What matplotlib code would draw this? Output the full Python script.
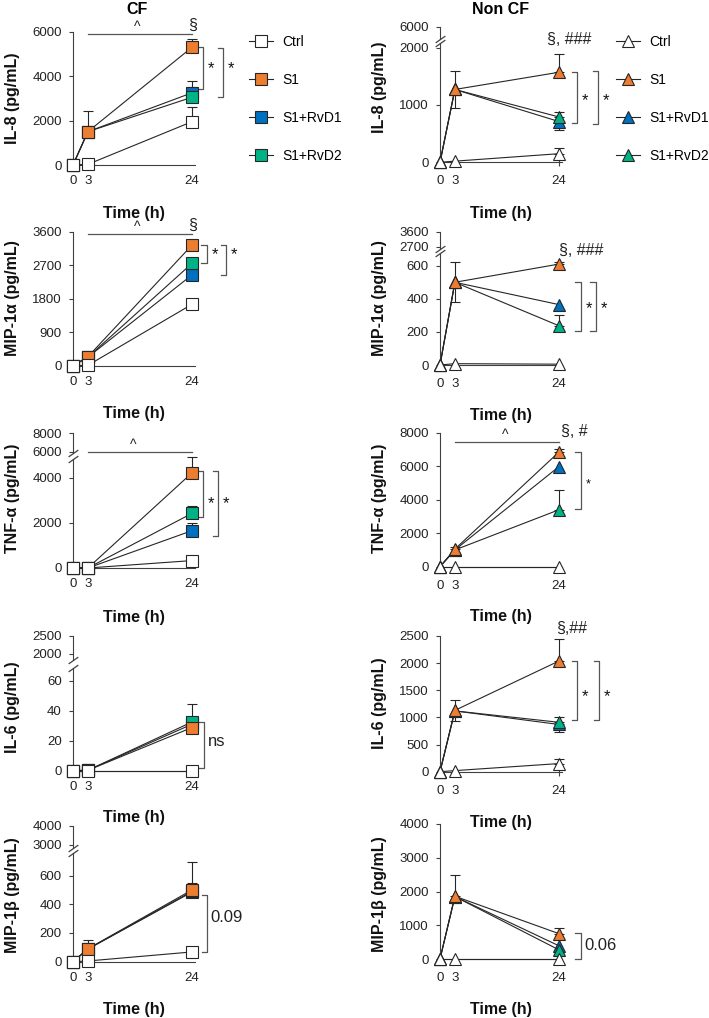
import numpy as np
import matplotlib
matplotlib.use('Agg')
import matplotlib.pyplot as plt

plt.rcParams['font.family'] = ['Liberation Sans', 'DejaVu Sans']

###################################### DATA #################################################
time_h = [0, 3, 24]
groups = ['Ctrl', 'S1', 'S1+RvD1', 'S1+RvD2']
zero = [0, 0, 0]

# means (pg/mL), one list per group: Ctrl, S1, S1+RvD1, S1+RvD2
# *_up / *_dn = upper / lower error bar length
il8_cf = [[0, 30, 1950], [0, 1500, 5300], [0, 1500, 3250], [0, 1500, 3050]]
il8_cf_up = [[0, 0, 650], [0, 950, 370], [0, 0, 550], [0, 0, 450]]
il8_cf_dn = [zero, zero, zero, zero]

il8_ncf = [[0, 20, 150], [0, 1270, 1570], [0, 1270, 710], [0, 1270, 790]]
il8_ncf_up = [[0, 0, 100], [0, 330, 310], zero, [0, 0, 90]]
il8_ncf_dn = [zero, [0, 320, 0], [0, 0, 140], zero]

mip1a_cf = [[0, 10, 1650], [0, 240, 3240], [0, 230, 2440], [0, 230, 2750]]
mip1a_cf_up = [zero, [0, 70, 40], zero, [0, 0, 60]]
mip1a_cf_dn = [zero, zero, zero, zero]

mip1a_ncf = [[0, 8, 5], [0, 500, 610], [0, 500, 365], [0, 500, 237]]
mip1a_ncf_up = [zero, [0, 120, 15], zero, [0, 0, 68]]
mip1a_ncf_dn = [zero, [0, 120, 0], zero, zero]

tnfa_cf = [[0, 0, 330], [0, 0, 4230], [0, 0, 1660], [0, 0, 2430]]
tnfa_cf_up = [zero, [0, 0, 720], [0, 0, 330], [0, 0, 330]]
tnfa_cf_dn = [zero, zero, zero, zero]

tnfa_ncf = [[0, 0, 0], [0, 1050, 6850], [0, 1000, 5980], [0, 1000, 3400]]
tnfa_ncf_up = [zero, [0, 100, 150], zero, [0, 0, 1150]]
tnfa_ncf_dn = [zero, zero, zero, zero]

il6_cf = [[0, 0, 0], [0, 0.3, 28.8], [0, 0.3, 31], [0, 0.3, 32.5]]
il6_cf_up = [zero, zero, zero, [0, 0, 12]]
il6_cf_dn = [zero, zero, zero, zero]

il6_ncf = [[0, 20, 150], [0, 1130, 2040], [0, 1120, 870], [0, 1120, 910]]
il6_ncf_up = [[0, 0, 85], [0, 200, 400], zero, [0, 0, 90]]
il6_ncf_dn = [zero, [0, 200, 0], [0, 0, 130], zero]

mip1b_cf = [[0, 5, 68], [0, 90, 500], [0, 88, 485], [0, 88, 490]]
mip1b_cf_up = [zero, [0, 60, 195], [0, 0, 60], zero]
mip1b_cf_dn = [zero, zero, zero, zero]

mip1b_ncf = [[0, 0, 0], [0, 1860, 750], [0, 1850, 390], [0, 1850, 270]]
mip1b_ncf_up = [zero, [0, 620, 160], zero, zero]
mip1b_ncf_dn = [zero, zero, zero, zero]

###################################### STYLE / LAYOUT #################################################
W, H = 709, 1018
colors = ['white', '#ED7D31', '#0070C0', '#00B386']
draw_order = [2, 3, 1, 0]   # Ctrl ends up on top
col_x0 = [73, 440]
col_w = 122
ylab_x = [20, 387]
ink = '#262626'
brk = '#555555'

fig = plt.figure(figsize=(W / 100, H / 100), dpi=100)


def fx(px):
    return px / W


def fy(py):
    return 1 - py / H


def add_ax(col, top, bottom):
    return fig.add_axes([fx(col_x0[col]), fy(bottom), col_w / W, (bottom - top) / H])


def style_axis(ax, yticks):
    for s in ['top', 'right']:
        ax.spines[s].set_visible(False)
    for s in ['left', 'bottom']:
        ax.spines[s].set_color('#404040')
        ax.spines[s].set_linewidth(0.8)
    ax.set_yticks(yticks)
    ax.tick_params(axis='y', direction='out', length=3, width=0.8, pad=5,
                   labelsize=9.5, colors='#404040', labelcolor='#222222')
    ax.patch.set_alpha(0)


panels = [
    dict(col=0, mean=il8_cf, up=il8_cf_up, dn=il8_cf_dn, marker='s', label='IL-8 (pg/mL)',
         low=(31.7, 165, 6000, [0, 2000, 4000, 6000]), upp=None, ylab_y=98.5, xlab_y=213,
         sig=(24, 6300, '§'), caret=(5900, 12.9),
         brackets=[(26.3, 5330, 3410, '*', 4330), (30.3, 5250, 3050, '*', 4330)]),
    dict(col=1, mean=il8_ncf, up=il8_ncf_up, dn=il8_ncf_dn, marker='^', label='IL-8 (pg/mL)',
         low=(43, 162.3, 2080, [0, 1000, 2000]), upp=(26.7, 39, 5800, 6000, [6000]),
         ylab_y=87.5, xlab_y=213, sig=(26, 2134, '§, ###'), caret=None,
         brackets=[(27.7, 1570, 680, '*', 1080), (31.9, 1593, 663, '*', 1080)]),
    dict(col=0, mean=mip1a_cf, up=mip1a_cf_up, dn=mip1a_cf_dn, marker='s', label='MIP-1α (pg/mL)',
         low=(231.7, 365.7, 3600, [0, 900, 1800, 2700, 3600]), upp=None, ylab_y=298,
         xlab_y=413.3, sig=(24, 3780, '§'), caret=(3530, 12.9),
         brackets=[(27, 3243, 2751, '*', 2980), (30.9, 3243, 2437, '*', 2980)]),
    dict(col=1, mean=mip1a_ncf, up=mip1a_ncf_up, dn=mip1a_ncf_dn, marker='^', label='MIP-1α (pg/mL)',
         low=(253, 365, 677, [0, 200, 400, 600]), upp=(231.7, 249, 2562, 3600, [2700, 3600]),
         ylab_y=297.7, xlab_y=415, sig=(28.4, 695, '§, ###'), caret=None,
         brackets=[(28.4, 503, 205, '*', 340), (31.4, 503, 205, '*', 340)]),
    dict(col=0, mean=tnfa_cf, up=tnfa_cf_up, dn=tnfa_cf_dn, marker='s', label='TNF-α (pg/mL)',
         low=(459, 568, 4844, [0, 2000, 4000]), upp=(433, 453, 5861, 8000, [6000, 8000]),
         ylab_y=498, xlab_y=616.7, sig=None, caret=(5140, 12.2),
         brackets=[(26.3, 4324, 2280, '*', 2850), (29.3, 4324, 1436, '*', 2850)]),
    dict(col=1, mean=tnfa_ncf, up=tnfa_ncf_up, dn=tnfa_ncf_dn, marker='^', label='TNF-α (pg/mL)',
         low=(432.7, 566.7, 8000, [0, 2000, 4000, 6000, 8000]), upp=None, ylab_y=498,
         xlab_y=616, sig=(27, 8050, '§, #'), caret=(7460, 13.2),
         brackets=[(28.4, 6866, 3445, 'small*', 4900)]),
    dict(col=0, mean=il6_cf, up=il6_cf_up, dn=il6_cf_dn, marker='s', label='IL-6 (pg/mL)',
         low=(668, 770.7, 68.5, [0, 20, 40, 60]), upp=(636, 660, 1833, 2500, [2000, 2500]),
         ylab_y=706.7, xlab_y=816.7, sig=None, caret=None,
         brackets=[(26.5, 32.7, 1.6, 'ns', 19.3)]),
    dict(col=1, mean=il6_ncf, up=il6_ncf_up, dn=il6_ncf_dn, marker='^', label='IL-6 (pg/mL)',
         low=(636, 771.7, 2500, [0, 500, 1000, 1500, 2000, 2500]), upp=None, ylab_y=703,
         xlab_y=821.7, sig=(26.6, 2642, '§,##'), caret=None,
         brackets=[(27.7, 2040, 950, '*', 1380), (32.1, 2040, 950, '*', 1380)]),
    dict(col=0, mean=mip1b_cf, up=mip1b_cf_up, dn=mip1b_cf_dn, marker='s', label='MIP-1β (pg/mL)',
         low=(853, 961.7, 757, [0, 200, 400, 600]), upp=(826, 848, 2842, 4000, [3000, 4000]),
         ylab_y=895, xlab_y=1009.3, sig=None, caret=None,
         brackets=[(27.1, 465, 65, '0.09', 309)]),
    dict(col=1, mean=mip1b_ncf, up=mip1b_ncf_up, dn=mip1b_ncf_dn, marker='^', label='MIP-1β (pg/mL)',
         low=(824, 959, 4000, [0, 1000, 2000, 3000, 4000]), upp=None, ylab_y=894,
         xlab_y=1009.3, sig=None, caret=None,
         brackets=[(28.4, 780, 0, '0.06', 394)]),
]

###################################### DRAW #################################################
legend_handles = {}
for p in panels:
    col = p['col']
    top, bottom, ymax, yticks = p['low']
    ax = add_ax(col, top, bottom)
    style_axis(ax, yticks)
    ax.set_xlim(0, 24.6)
    ax.set_ylim(0, ymax)
    ax.set_xticks(time_h)
    if col == 0:
        ax.tick_params(axis='x', length=0, pad=7.5, labelsize=9.5, labelcolor='#222222')
    else:
        ax.tick_params(axis='x', direction='inout', length=6, width=0.8, color='#404040',
                       pad=6.5, labelsize=9.5, labelcolor='#222222')

    handles = {}
    for rank, gi in enumerate(draw_order):
        m = p['mean'][gi]
        ln, = ax.plot(time_h, m, marker=p['marker'], ms=8.5, mfc=colors[gi], mec=ink, mew=0.8,
                      color=ink, lw=0.8, zorder=4 + rank, clip_on=False)
        handles[gi] = ln
        up = np.array(p['up'][gi], dtype=float)
        dn = np.array(p['dn'][gi], dtype=float)
        keep = (up > 0) | (dn > 0)
        if keep.any():
            tx = np.array(time_h)[keep]
            ax.errorbar(tx, np.array(m)[keep], yerr=[dn[keep], up[keep]], fmt='none',
                        ecolor=ink, elinewidth=0.8, capsize=3.5, capthick=0.8,
                        zorder=3, clip_on=False)
    if col not in legend_handles:
        legend_handles[col] = [handles[gi] for gi in range(len(groups))]

    # y label and x label
    ax.set_ylabel(p['label'], fontsize=11.5, fontweight='bold', color='#111111')
    ax.yaxis.set_label_coords(fx(ylab_x[col]), fy(p['ylab_y']), transform=fig.transFigure)
    ax.set_xlabel('Time (h)', fontsize=11.5, fontweight='bold', color='#111111')
    ax.xaxis.set_label_coords(fx(col_x0[col] + col_w / 2), fy(p['xlab_y'] - 7),
                              transform=fig.transFigure)

    # broken axis: small upper segment
    if p['upp'] is not None:
        utop, ubot, ylo, yhi, uticks = p['upp']
        ua = add_ax(col, utop, ubot)
        style_axis(ua, uticks)
        ua.spines['bottom'].set_visible(False)
        ua.set_xticks([])
        ua.set_xlim(0, 24.6)
        ua.set_ylim(ylo, yhi)
        kw = dict(marker=[(-1, -0.7), (1, 0.7)], markersize=7, linestyle='none',
                  color='#404040', mec='#404040', mew=0.9, clip_on=False)
        ua.plot([0], [0], transform=ua.transAxes, **kw)
        ax.plot([0], [1], transform=ax.transAxes, **kw)

    # significance marks
    if p['caret'] is not None:
        cy, cx = p['caret']
        ax.plot([3, 24], [cy, cy], color='#555555', lw=0.9, clip_on=False)
        ax.annotate('^', (cx, cy), xytext=(0, 0), textcoords='offset points',
                    ha='center', va='bottom', fontsize=10, color='#222222', annotation_clip=False)
    if p['sig'] is not None:
        sx, sy, st = p['sig']
        ax.text(sx, sy, st, ha='center', va='center', fontsize=11.5, color='#222222', clip_on=False)
    for bx, y0, y1, txt, ty in p['brackets']:
        ax.plot([bx - 1.1, bx, bx, bx - 1.1], [y0, y0, y1, y1], color=brk, lw=0.9, clip_on=False)
        if txt == '*':
            ax.text(bx + 1.6, ty, txt, ha='center', va='center', fontsize=12, color='#111111',
                    clip_on=False)
        elif txt == 'small*':
            ax.text(bx + 1.4, ty, '*', ha='center', va='center', fontsize=9, color='#111111',
                    clip_on=False)
        else:
            ax.text(bx + 0.7, ty, txt, ha='left', va='center', fontsize=12, color='#222222',
                    clip_on=False)

# column titles
fig.text(fx(137), fy(10), 'CF', ha='center', va='center', fontsize=11.5, fontweight='bold')
fig.text(fx(501), fy(10), 'Non CF', ha='center', va='center', fontsize=11.5, fontweight='bold')

# legends
for col, x0 in [(0, 249), (1, 616)]:
    fig.legend(legend_handles[col], groups, loc='upper left', bbox_to_anchor=(fx(x0), fy(35)),
               frameon=False, fontsize=10, handlelength=1.75, handletextpad=0.65,
               labelspacing=1.73, borderpad=0, borderaxespad=0)

fig.savefig('out.png', dpi=100)
